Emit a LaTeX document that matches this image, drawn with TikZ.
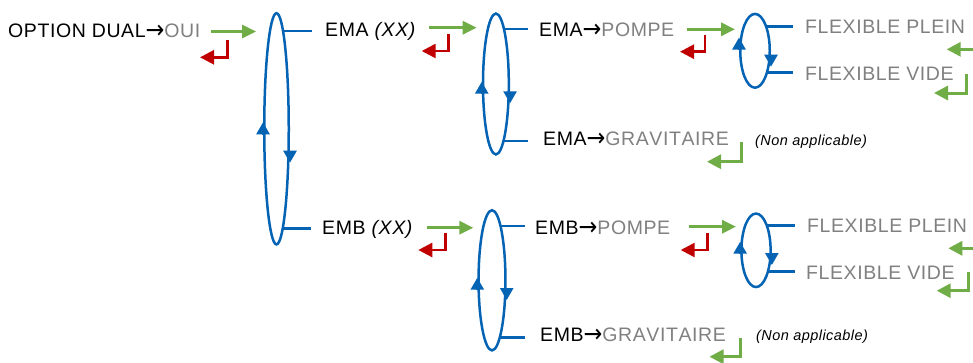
\documentclass[tikz,border=0pt]{standalone}
\usepackage{fontspec}
\setmainfont{Liberation Sans}[LetterSpace=3,Kerning=Off]
\newfontfamily\arrfont{DejaVu Sans}
\usetikzlibrary{arrows.meta,shapes.geometric,backgrounds}
\definecolor{cblue}{RGB}{5,99,180}
\definecolor{cgreen}{RGB}{112,173,71}
\definecolor{cred}{RGB}{192,0,0}
\definecolor{cgrey}{RGB}{128,128,128}
\newcommand\rarr{\raisebox{-1.1pt}{\scalebox{1.15}[1.3]{\arrfont\char"2192}}}
\newcommand\gtx[1]{\textcolor{cgrey}{#1}}
\begin{document}
\begin{tikzpicture}[x=1pt,y=-1pt,
 lbl/.style={anchor=base west, inner sep=0pt, font=\fontsize{19.5}{22}\selectfont},
 small/.style={anchor=base west, inner sep=0pt, font=\fontsize{14.5}{17}\selectfont\itshape},
 loopring/.style={ellipse, draw=cblue, line width=2.5pt, fill=white, inner sep=0pt},
 blueline/.style={draw=cblue, line width=2.5pt},
 bluetip/.style={draw=cblue, line width=2.5pt, -{Triangle[length=12pt,width=13pt]}},
 goarrow/.style={draw=cgreen, line width=3pt, -{Triangle[length=14pt,width=13pt]}},
 backarrow/.style={draw=cred, line width=2.5pt, -{Triangle[length=14pt,width=14pt]}},
 okarrow/.style={draw=cgreen, line width=3pt, -{Triangle[length=14pt,width=14pt]}},
]
\useasboundingbox (0,0) rectangle (973,362);

% texts
\node[lbl] (T0) at (8,37.5) {OPTION DUAL\rarr\gtx{OUI}};
\node[lbl] (T1) at (325,36.5) {EMA \textit{(XX)}};
\node[lbl] (T2) at (539,36.7) {EMA\rarr\gtx{POMPE}};
\node[lbl] (T3) at (543,145.7) {EMA\rarr\gtx{GRAVITAIRE}};
\node[lbl,text=cgrey] (T4) at (805,33.3) {FLEXIBLE PLEIN};
\node[lbl,text=cgrey] (T5) at (805,80) {FLEXIBLE VIDE};
\node[small] (T6) at (755,145) {(Non applicable)};
\node[lbl] (T7) at (322,234) {EMB \textit{(XX)}};
\node[lbl] (T8) at (535,234) {EMB\rarr\gtx{POMPE}};
\node[lbl] (T9) at (540,341.7) {EMB\rarr\gtx{GRAVITAIRE}};
\node[lbl,text=cgrey] (T10) at (807,232.7) {FLEXIBLE PLEIN};
\node[lbl,text=cgrey] (T11) at (806,279) {FLEXIBLE VIDE};
\node[small] (T12) at (756,340) {(Non applicable)};

% loops
\node[loopring, minimum width=24.5pt, minimum height=231.2pt] (E1) at (276.5,128.8) {};
\node[loopring, minimum width=25.8pt, minimum height=140.9pt] (E2) at (495.9,84) {};
\node[loopring, minimum width=29.5pt, minimum height=73.8pt] (E3) at (755,50.8) {};
\node[loopring, minimum width=26.9pt, minimum height=140.2pt] (E4) at (492,280.3) {};
\node[loopring, minimum width=29.2pt, minimum height=73.5pt] (E5) at (756,250.3) {};

\begin{pgfonlayer}{background}
\draw[blueline] (276.5,31) -- (311.7,31);
\draw[blueline] (276.5,228.3) -- (311,228.3);
\draw[blueline] (495.9,29) -- (528,29);
\draw[blueline] (495.9,141) -- (528,141);
\draw[blueline] (755,26.7) -- (793,26.7);
\draw[blueline] (755,72.7) -- (793,72.7);
\draw[blueline] (492,226) -- (525,226);
\draw[blueline] (492,337.5) -- (525,337.5);
\draw[blueline] (756,225.3) -- (795,225.3);
\draw[blueline] (756,271.3) -- (795,271.3);
\end{pgfonlayer}

% direction tips on loops
\draw[bluetip] (E1.west |- 0,134) -- (E1.west |- 0,122.3);
\draw[bluetip] (E1.east |- 0,150.5) -- (E1.east |- 0,162.7);
\draw[bluetip] (E2.west |- 0,93.5) -- (E2.west |- 0,81.7);
\draw[bluetip] (E2.east |- 0,91.5) -- (E2.east |- 0,103.3);
\draw[bluetip] (E3.west |- 0,49.5) -- (E3.west |- 0,37.5);
\draw[bluetip] (E3.east |- 0,54.7) -- (E3.east |- 0,66.7);
\draw[bluetip] (E4.west |- 0,289.7) -- (E4.west |- 0,277.7);
\draw[bluetip] (E4.east |- 0,288) -- (E4.east |- 0,300);
\draw[bluetip] (E5.west |- 0,253.7) -- (E5.west |- 0,241.7);
\draw[bluetip] (E5.east |- 0,253) -- (E5.east |- 0,265);

% forward (green) arrows
\draw[goarrow] (211,31.5) -- (256,31.5);
\draw[goarrow] (429,27.7) -- (476.7,27.7);
\draw[goarrow] (687,29.3) -- (735,29.3);
\draw[goarrow] (426.7,227.7) -- (473.3,227.7);
\draw[goarrow] (689.3,226.7) -- (736,226.7);

% back (red) arrows
\draw[backarrow] (227.7,40) -- (227.7,57.3) -- (200,57.3);
\draw[backarrow] (448.3,34) -- (448.3,51) -- (421.7,51);
\draw[backarrow] (705,35) -- (705,51.7) -- (680,51.7);
\draw[backarrow] (445.7,232.7) -- (445.7,250) -- (418.3,250);
\draw[backarrow] (707.7,233) -- (707.7,250) -- (680.7,250);

% return (green) arrows
\draw[okarrow] (973,49.3) -- (946.7,49.3);
\draw[okarrow] (966.7,74) -- (966.7,93) -- (934,93);
\draw[okarrow] (741.7,141.7) -- (741.7,161.7) -- (707,161.7);
\draw[okarrow] (973,248.3) -- (948.3,248.3);
\draw[okarrow] (968.3,271.7) -- (968.3,290.7) -- (936.7,290.7);
\draw[okarrow] (740.5,338) -- (740.5,356.7) -- (709.5,356.7);
\end{tikzpicture}
\end{document}
